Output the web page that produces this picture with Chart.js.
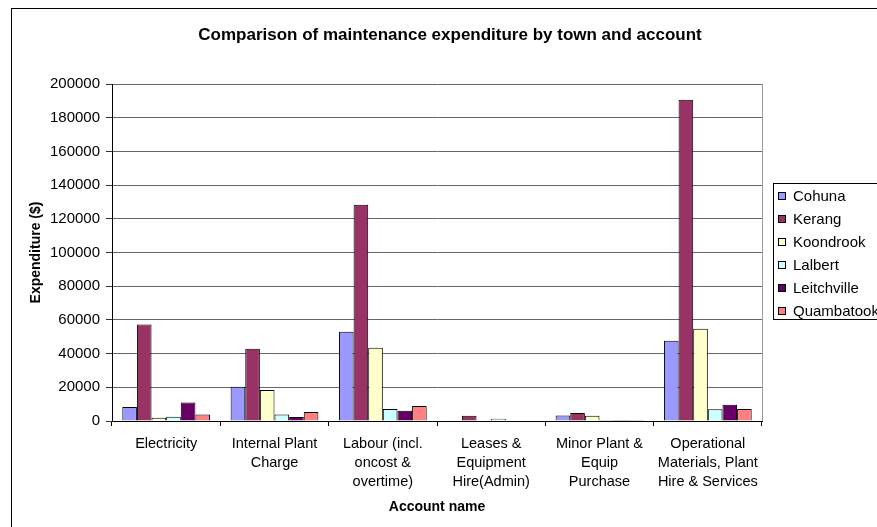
<!DOCTYPE html>
<html>
<head>
<meta charset="utf-8">
<title>Maintenance expenditure</title>
<script src="https://cdn.jsdelivr.net/npm/chart.js@4.4.0/dist/chart.umd.min.js"></script>
<style>
  html, body { margin: 0; padding: 0; background: #fff; overflow: hidden; }
  canvas { display: block; }
</style>
</head>
<body>
<canvas id="expChart" width="877" height="527"></canvas>
<script>
// ========= Data =========
const accounts = [
  "Electricity",
  ["Internal Plant", "Charge"],
  ["Labour (incl.", "oncost &", "overtime)"],
  ["Leases &", "Equipment", "Hire(Admin)"],
  ["Minor Plant &", "Equip", "Purchase"],
  ["Operational", "Materials, Plant", "Hire & Services"]
];
const towns = ["Cohuna", "Kerang", "Koondrook", "Lalbert", "Leitchville", "Quambatook"];
const cohuna = [8300, 20400, 53000, 0, 3300, 47700];
const kerang = [57200, 42900, 128400, 3100, 4700, 190600];
const koondrook = [2000, 18400, 43500, 0, 3100, 54800];
const lalbert = [2500, 3900, 7100, 1400, 600, 6900];
const leitchville = [11000, 2400, 6100, 0, 600, 9700];
const quambatook = [3900, 5300, 8900, 0, 600, 7100];
const yTicks = [0, 20000, 40000, 60000, 80000, 100000, 120000, 140000, 160000, 180000, 200000];

const seriesValues = [cohuna, kerang, koondrook, lalbert, leitchville, quambatook];
const seriesColors = ["#9999FF", "#993366", "#FFFFCC", "#CCFFFF", "#660066", "#FF8080"];

document.addEventListener("DOMContentLoaded", () => {
  const FONT = "Arial, 'Liberation Sans', sans-serif";

  // ========= Extras: frame, title, plot border, legend =========
  const extras = {
    id: "extras",
    beforeDatasetsDraw(chart) {
      const { ctx, chartArea } = chart;
      ctx.save();
      ctx.strokeStyle = "#999";
      ctx.lineWidth = 1;
      ctx.beginPath();
      ctx.moveTo(Math.round(chartArea.right) + 0.5, chartArea.top);
      ctx.lineTo(Math.round(chartArea.right) + 0.5, chartArea.bottom);
      ctx.stroke();
      ctx.restore();
    },
    afterDraw(chart) {
      const { ctx } = chart;
      ctx.save();
      // outer frame
      ctx.strokeStyle = "#000";
      ctx.lineWidth = 1;
      ctx.strokeRect(11.5, 8.5, 900, 600);

      // title
      ctx.fillStyle = "#000";
      ctx.font = "bold 17px " + FONT;
      ctx.textAlign = "center";
      ctx.textBaseline = "middle";
      ctx.fillText("Comparison of maintenance expenditure by town and account", 450, 35);

      // legend
      ctx.fillStyle = "#fff";
      ctx.fillRect(773.5, 183.5, 200, 136);
      ctx.strokeStyle = "#000";
      ctx.strokeRect(773.5, 183.5, 200, 136);
      ctx.font = "15px " + FONT;
      ctx.textAlign = "left";
      chart.data.datasets.forEach((ds, i) => {
        const y = 196 + i * 23;
        ctx.fillStyle = ds.backgroundColor;
        ctx.fillRect(778.5, y - 3.5, 7, 7);
        ctx.strokeStyle = "#000";
        ctx.strokeRect(778.5, y - 3.5, 7, 7);
        ctx.fillStyle = "#000";
        ctx.fillText(ds.label, 793, y + 1);
      });
      ctx.restore();
    }
  };

  // ========= Chart =========
  const ctx = document.getElementById("expChart").getContext("2d");
  new Chart(ctx, {
    type: "bar",
    data: {
      labels: accounts,
      datasets: towns.map((t, i) => ({
        label: t,
        data: seriesValues[i],
        backgroundColor: seriesColors[i],
        borderColor: "#000",
        borderWidth: 1,
        categoryPercentage: 0.81,
        barPercentage: 1
      }))
    },
    options: {
      responsive: false,
      animation: false,
      layout: { padding: { left: 0, right: 115, top: 84, bottom: 0 } },
      plugins: {
        legend: { display: false },
        title: { display: false },
        tooltip: { enabled: false }
      },
      scales: {
        x: {
          afterFit: s => { s.height = 106; },
          grid: { drawOnChartArea: false, offset: true, color: "#000", tickLength: 5 },
          border: { color: "#000" },
          ticks: {
            color: "#000",
            maxRotation: 0,
            autoSkip: false,
            padding: 8,
            font: { family: FONT, size: 14.5, lineHeight: 1.32 }
          },
          title: {
            display: true,
            text: "Account name",
            color: "#000",
            font: { family: FONT, size: 14, weight: "bold" },
            padding: { top: 11, bottom: 11 }
          }
        },
        y: {
          min: 0,
          max: 200000,
          afterFit: s => { s.width = 112; },
          afterBuildTicks: s => { s.ticks = yTicks.map(v => ({ value: v })); },
          grid: { color: "#666", tickColor: "#333", tickLength: 6 },
          border: { color: "#000" },
          ticks: {
            color: "#000",
            padding: 6,
            font: { family: FONT, size: 15 },
            callback: v => String(v)
          },
          title: {
            display: true,
            text: "Expenditure ($)",
            color: "#000",
            font: { family: FONT, size: 14, weight: "bold" },
            padding: { top: 28, bottom: 28 }
          }
        }
      }
    },
    plugins: [extras]
  });
});
</script>
</body>
</html>
